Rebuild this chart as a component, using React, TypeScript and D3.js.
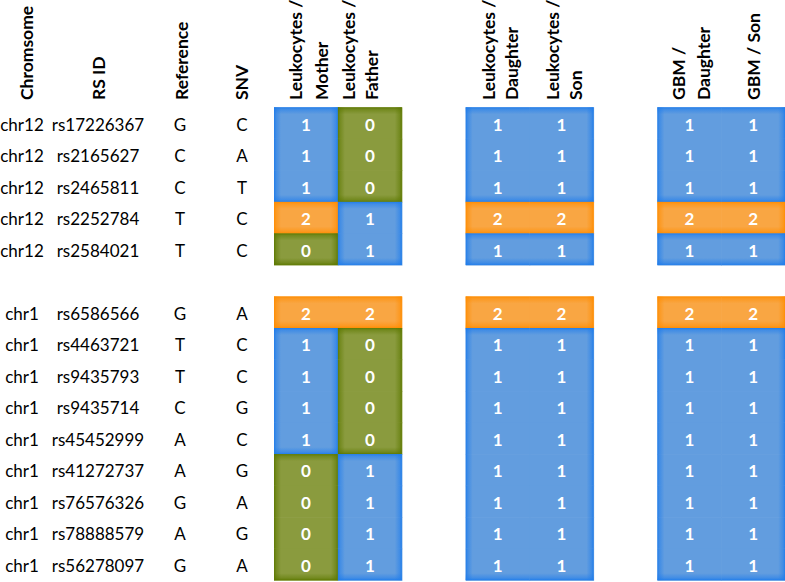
import React from "react";
import * as d3 from "d3";

// ---- data ----
const chromosomes = ["chr12", "chr12", "chr12", "chr12", "chr12", "chr1", "chr1", "chr1", "chr1", "chr1", "chr1", "chr1", "chr1", "chr1"];
const rsIds = ["rs17226367", "rs2165627", "rs2465811", "rs2252784", "rs2584021", "rs6586566", "rs4463721", "rs9435793", "rs9435714", "rs45452999", "rs41272737", "rs76576326", "rs78888579", "rs56278097"];
const references = ["G", "C", "C", "T", "T", "G", "T", "T", "C", "A", "A", "G", "A", "G"];
const snvs = ["C", "A", "T", "C", "C", "A", "C", "C", "G", "C", "G", "A", "G", "A"];
const rowGroups = [0, 0, 0, 0, 0, 1, 1, 1, 1, 1, 1, 1, 1, 1];

const leukocytesMother = [1, 1, 1, 2, 0, 2, 1, 1, 1, 1, 0, 0, 0, 0];
const leukocytesFather = [0, 0, 0, 1, 1, 2, 0, 0, 0, 0, 1, 1, 1, 1];
const leukocytesDaughter = [1, 1, 1, 2, 1, 2, 1, 1, 1, 1, 1, 1, 1, 1];
const leukocytesSon = [1, 1, 1, 2, 1, 2, 1, 1, 1, 1, 1, 1, 1, 1];
const gbmDaughter = [1, 1, 1, 2, 1, 2, 1, 1, 1, 1, 1, 1, 1, 1];
const gbmSon = [1, 1, 1, 2, 1, 2, 1, 1, 1, 1, 1, 1, 1, 1];

const textHeaders = ["Chromsome", "RS ID", "Reference", "SNV"];
const valueColumns = [
  { key: "LM", block: 0, lines: ["Leukocytes /", "Mother"], values: leukocytesMother },
  { key: "LF", block: 0, lines: ["Leukocytes /", "Father"], values: leukocytesFather },
  { key: "LD", block: 1, lines: ["Leukocytes /", "Daughter"], values: leukocytesDaughter },
  { key: "LS", block: 1, lines: ["Leukocytes /", "Son"], values: leukocytesSon },
  { key: "GD", block: 2, lines: ["GBM /", "Daughter"], values: gbmDaughter },
  { key: "GS", block: 2, lines: ["GBM / Son"], values: gbmSon },
];

// ---- layout ----
const W = 785;
const H = 582;
const textColX = [22, 98, 180, 242];
const textHeaderBaseX = [33, 105, 188, 248];
const valueHeaderBaseX: Record<string, number[]> = {
  LM: [302, 328],
  LF: [355, 378],
  LD: [495, 518],
  LS: [559, 582],
  GD: [685, 710],
  GS: [760],
};
const headerBottom = 100;
const FONT = "Lato, 'Open Sans', sans-serif";

const fills: Record<number, string> = { 0: "#8a9b3e", 1: "#629ddf", 2: "#f9a643" };
const edges: Record<number, string> = { 0: "#5c7800", 1: "#1f7ceb", 2: "#ff8c00" };
const GLOW = 7;

export default function App() {
  const colDomain = ["LM", "LF", "gap1", "LD", "LS", "gap2", "GD", "GS"];
  const x = d3.scaleBand<string>().domain(colDomain).range([274, 785.2]);
  const rowKeys: string[] = [];
  rsIds.forEach((_, i) => {
    if (i > 0 && rowGroups[i] !== rowGroups[i - 1]) rowKeys.push("gap");
    rowKeys.push("r" + i);
  });
  const y = d3.scaleBand<string>().domain(rowKeys).range([107.3, 580.2]);
  const bw = x.bandwidth();
  const bh = y.bandwidth();

  const dirs = ["top", "bottom", "left", "right"];
  const gradCoords: Record<string, [number, number, number, number]> = {
    top: [0, 0, 0, 1],
    bottom: [0, 1, 0, 0],
    left: [0, 0, 1, 0],
    right: [1, 0, 0, 0],
  };

  const cells: React.ReactNode[] = [];
  const glows: React.ReactNode[] = [];
  const labels: React.ReactNode[] = [];

  valueColumns.forEach((col, ci) => {
    const x0 = x(col.key)!;
    col.values.forEach((v, ri) => {
      const y0 = y("r" + ri)!;
      cells.push(
        <rect key={`c-${ci}-${ri}`} x={x0} y={y0} width={bw + 0.6} height={bh + 0.6} fill={fills[v]} />
      );
      const sameGroup = (rj: number) => rj >= 0 && rj < rsIds.length && rowGroups[rj] === rowGroups[ri];
      const up = sameGroup(ri - 1) ? col.values[ri - 1] : null;
      const down = sameGroup(ri + 1) ? col.values[ri + 1] : null;
      const leftCol = valueColumns[ci - 1];
      const rightCol = valueColumns[ci + 1];
      const left = leftCol && leftCol.block === col.block ? leftCol.values[ri] : null;
      const right = rightCol && rightCol.block === col.block ? rightCol.values[ri] : null;
      const need: Record<string, boolean> = {
        top: up !== v,
        bottom: down !== v,
        left: left !== v,
        right: right !== v,
      };
      dirs.forEach((d) => {
        if (!need[d]) return;
        let rx = x0, ry = y0, rw = bw, rh = bh;
        if (d === "top") rh = GLOW;
        if (d === "bottom") { ry = y0 + bh - GLOW; rh = GLOW; }
        if (d === "left") rw = GLOW;
        if (d === "right") { rx = x0 + bw - GLOW; rw = GLOW; }
        glows.push(
          <rect key={`g-${ci}-${ri}-${d}`} x={rx} y={ry} width={rw} height={rh} fill={`url(#glow-${v}-${d})`} />
        );
      });
      labels.push(
        <text key={`t-${ci}-${ri}`} x={x0 + bw / 2} y={y0 + bh / 2 + 7.5} textAnchor="middle"
          fill="#ffffff" fontWeight={700} fontSize={17} fontFamily={FONT}>{v}</text>
      );
    });
  });

  const rowText: React.ReactNode[] = [];
  rsIds.forEach((id, i) => {
    const cy = y("r" + i)! + bh / 2 + 7.5;
    [chromosomes[i], id, references[i], snvs[i]].forEach((t, k) => {
      rowText.push(
        <text key={`rt-${i}-${k}`} x={textColX[k]} y={cy} textAnchor="middle" fontSize={17}
          fontFamily={FONT} fill="#000">{t}</text>
      );
    });
  });

  const headers: React.ReactNode[] = [];
  textHeaders.forEach((h, k) => {
    headers.push(
      <text key={`h-${k}`} transform={`translate(${textHeaderBaseX[k]},${headerBottom}) rotate(-90)`}
        fontSize={17.5} fontWeight={700} fontFamily={FONT} fill="#000">{h}</text>
    );
  });
  valueColumns.forEach((col) => {
    col.lines.forEach((line, li) => {
      headers.push(
        <text key={`vh-${col.key}-${li}`} transform={`translate(${valueHeaderBaseX[col.key][li]},${headerBottom}) rotate(-90)`}
          fontSize={17.5} fontWeight={700} fontFamily={FONT} fill="#000">{line}</text>
      );
    });
  });

  return (
    <svg width={W} height={H} style={{ position: "absolute", left: 0, top: 0, background: "#fff" }}>
      <defs>
        {[0, 1, 2].map((v) =>
          dirs.map((d) => {
            const [x1, y1, x2, y2] = gradCoords[d];
            return (
              <linearGradient key={`lg-${v}-${d}`} id={`glow-${v}-${d}`} x1={x1} y1={y1} x2={x2} y2={y2}>
                <stop offset="0" stopColor={edges[v]} stopOpacity={0.95} />
                <stop offset="0.3" stopColor={edges[v]} stopOpacity={0.5} />
                <stop offset="1" stopColor={edges[v]} stopOpacity={0} />
              </linearGradient>
            );
          })
        )}
      </defs>
      <rect width={W} height={H} fill="#fff" />
      {cells}
      {glows}
      {labels}
      {rowText}
      {headers}
    </svg>
  );
}
